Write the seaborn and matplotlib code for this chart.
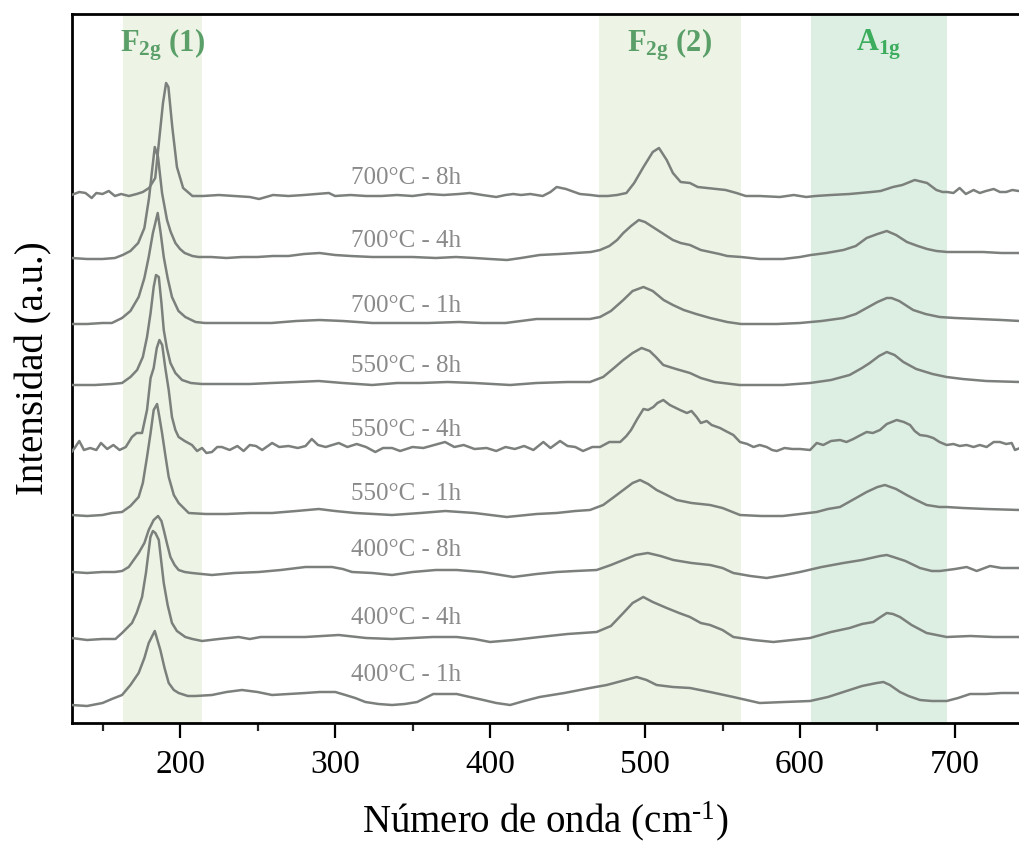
import matplotlib
matplotlib.use("Agg")
import matplotlib.pyplot as plt
from matplotlib.ticker import MultipleLocator
import numpy as np
import pandas as pd
import seaborn as sns

# Stacked Raman spectra of the calcined samples (intensity in arbitrary units,
# each spectrum already shifted vertically for display).
samples = ["700°C - 8h", "700°C - 4h", "700°C - 1h",
           "550°C - 8h", "550°C - 4h", "550°C - 1h",
           "400°C - 8h", "400°C - 4h", "400°C - 1h"]

wn_700_8h = [130, 135, 139, 143, 146, 150, 154, 158, 162, 167, 172, 176, 180, 184, 187, 189, 191, 192.5, 195, 198, 202, 208,
             215, 225, 235, 245, 251, 260, 270, 280, 296, 300, 310, 320, 330, 340, 350, 360, 370, 380, 387, 395, 404, 410,
             415, 420, 426, 434, 439, 443, 449, 458, 465, 470, 476, 482, 488, 493, 499, 505, 509, 514, 518, 523, 529, 534,
             540, 546, 552, 559, 565, 574, 587, 596, 604, 610, 620, 632, 639, 646, 652, 660, 666, 674, 682, 688, 692, 695,
             699, 703, 707, 712, 716, 720, 725, 729, 733, 737, 741]
int_700_8h = [528, 531, 530, 525, 530, 529, 532, 527, 529, 527, 529, 531, 535, 545, 590, 620, 640, 636, 596, 556, 535, 527,
              527, 528, 527, 526, 524, 528, 527, 528, 530, 527, 528, 527, 527, 528, 527, 529, 528, 529, 530, 528, 526, 528,
              529, 528, 529, 527, 531, 536, 534, 529, 528, 527, 527, 528, 530, 540, 556, 571, 575, 563, 550, 541, 540, 536,
              535, 534, 533, 530, 527, 527, 526, 528, 526, 527, 528, 529, 530, 531, 532, 536, 538, 543, 540, 533, 531, 531,
              530, 535, 529, 533, 530, 532, 534, 531, 531, 533, 532]

wn_700_4h = [130, 140, 150, 158, 163, 168, 173, 177, 180, 182, 183.7, 185.8, 188.4, 191.6, 194, 197, 200, 203, 208, 212, 220,
             230, 240, 250, 260, 270, 280, 290, 300, 310, 324, 336, 350, 365, 378, 390, 400, 411, 420, 432, 445, 455, 465,
             471, 477, 482, 486, 491, 496, 500, 504, 508, 513, 518, 523, 529, 536, 542, 548, 553, 562, 574, 589, 600, 607,
             617, 628, 636, 643, 650, 656, 662, 669, 676, 682, 688, 695, 705, 718, 730, 742]
int_700_4h = [465, 464, 464, 465, 468, 472, 480, 495, 525, 553, 576, 566, 530, 503, 491, 480, 474, 470, 467, 466, 466,
              465, 466, 466, 467, 467, 469, 470, 468, 467, 466, 466, 466, 465, 466, 465, 464, 463, 465, 468, 469, 470, 471,
              473, 477, 483, 490, 497, 503, 501, 497, 493, 488, 483, 480, 478, 473, 471, 469, 467, 466, 464, 464, 466, 468,
              470, 473, 477, 485, 489, 492, 488, 481, 477, 474, 472, 471, 471, 471, 470, 470]

wn_700_1h = [130, 140, 150, 156, 162.6, 168, 173.3, 177, 179.8, 182.5, 185.6, 187.5, 189.5, 192, 194.8, 199, 203.4, 210,
             216, 230, 245, 259, 275, 290, 305, 324, 340, 360, 380, 395, 410, 430, 450, 464.5, 471, 478, 486, 492, 499,
             505, 512, 518, 525, 533, 542, 553, 562, 572, 585, 600, 614, 628, 636, 643, 650, 656, 659, 664, 668, 673,
             681, 690, 700, 715, 730, 742]
int_700_1h = [399, 399, 400, 400, 405, 412, 426, 445, 466, 490, 510, 490, 466, 445, 426, 412, 406, 401,
              400, 400, 400, 400, 402, 403, 402, 400, 400, 400, 401, 400, 400, 404, 404, 404, 406, 412, 423, 432, 436,
              432, 423, 418, 413, 409, 405, 401, 399, 399, 399, 400, 402, 405, 409, 415, 421, 425, 425, 422, 418, 413,
              409, 406, 405, 404, 403, 402]

wn_550_8h = [130, 145, 156, 162.6, 168, 172.3, 176, 178.7, 181, 183, 184.5, 186.3, 188, 189.5, 191.5, 193.8, 197, 201.3,
             207, 214, 230, 245, 259, 275, 289.5, 305, 324, 340, 355, 372.7, 390, 413, 430, 450, 464.5, 473, 480, 486,
             492, 497.8, 503, 507, 511.8, 520, 529, 536, 545, 561, 575, 589, 606.5, 620, 632, 640, 645, 651, 656, 661,
             666.7, 675, 685.5, 694.6, 705, 720, 742]
int_550_8h = [338, 338, 339, 340, 346, 353, 366, 386, 410, 436, 448, 446, 420, 393, 375, 360, 350, 343,
              340, 339, 339, 339, 340, 341, 342, 340, 338, 340, 340, 341, 340, 338, 340, 341, 341, 346, 355, 363,
              370, 375, 372, 366, 358, 354, 350, 345, 341, 338, 338, 338, 340, 343, 348, 355, 360, 367, 371, 368,
              361, 354, 349, 346, 344, 342, 341]

wn_550_4h = [130, 132, 135, 138, 142, 146, 149, 153, 157, 161, 165, 169, 172, 175.5, 178.7, 181, 183, 185, 186.7, 188.5,
             190.5, 192.7, 194.8, 197, 199.1, 203, 207.7, 211, 214.2, 217, 220.6, 224, 227, 232, 237, 241, 245, 249,
             253, 259.4, 264, 270, 276, 281, 285, 289, 294, 302.4, 308, 314, 320, 326, 331, 336.8, 342, 350, 357, 364,
             371, 377, 383, 390, 397.8, 404, 410, 416, 422, 428, 434.4, 439, 445.2, 450, 455, 460, 466, 471, 477, 484,
             488, 491, 495, 499, 502, 505.4, 508, 511.8, 516, 522.6, 527, 530, 533.3, 536, 539.8, 543, 548.4, 552, 557,
             561.3, 566, 570, 574, 578.5, 582, 585, 590, 595, 600, 606.5, 610.8, 615, 620, 625.8, 630, 634.4, 638, 643,
             647, 651.6, 656, 662.4, 667, 671, 674, 677.4, 682, 686, 690, 694.6, 699, 703, 707.5, 712, 716, 720.4, 725,
             729, 733, 736.6, 738.7, 742]
int_550_4h = [271, 275, 282, 273, 275, 273, 280, 274, 278, 273, 276, 286, 290, 290, 313, 345, 355, 375, 383, 378,
              355, 333, 306, 293, 286, 282, 278, 272, 275, 270, 271, 276, 276, 273, 277, 272, 278, 277,
              273, 280, 276, 277, 275, 277, 284, 278, 276, 280, 276, 279, 276, 271, 275, 275, 272, 276, 275, 278,
              281, 276, 278, 274, 275, 272, 276, 274, 277, 273, 281, 275, 282, 277, 276, 272, 276, 276, 281, 281,
              287, 293, 304, 314, 313, 316, 320, 323, 318, 313, 310, 312, 306, 300, 302, 298, 295, 292, 288,
              281, 279, 276, 278, 276, 273, 272, 275, 274, 274, 273, 280, 278, 282, 283, 281, 284, 287, 291,
              290, 293, 299, 303, 301, 298, 292, 288, 287, 285, 281, 278, 279, 277, 278, 276, 278, 276, 281,
              281, 279, 280, 273, 275]

wn_550_1h = [130, 140, 150, 156, 162.6, 168, 173.3, 176, 178.7, 181, 183, 185.2, 186.8, 188.4, 190.5, 192.7, 196, 199.1,
             205.6, 216.4, 230, 245, 259.4, 275, 289.5, 300, 313, 325, 336.8, 355, 371.2, 390, 410.8, 430, 443, 455,
             464.5, 473, 480, 486, 492, 496.8, 502, 507.5, 514, 520.4, 530, 542, 550, 561.3, 575, 589, 600, 610.8, 618,
             625.8, 635, 643, 650, 654.8, 662, 668.8, 675, 681.7, 690, 694.6, 705, 720, 742]
int_550_1h = [208, 207, 208, 210, 211, 217, 226, 240, 266, 290, 313, 319, 305, 290, 268, 246, 228, 220,
              210, 209, 209, 210, 210, 212, 214, 212, 210, 209, 208, 210, 212, 210, 206, 209, 210, 212,
              213, 218, 226, 233, 240, 243, 239, 233, 228, 223, 220, 218, 215, 208, 207, 207, 209, 211, 214,
              216, 224, 231, 236, 238, 234, 228, 223, 218, 216, 216, 215, 214, 213]

wn_400_8h = [130, 140, 150, 158, 162.6, 166.9, 173.3, 177, 179.8, 183, 185.8, 188, 189.5, 191.5, 193.8, 196.5, 199.1, 203,
             207.7, 214, 220.6, 235, 250.8, 265, 280.9, 290, 298, 305, 311, 324, 336.8, 350, 365, 378.5, 395, 415, 430,
             443, 455, 468.8, 478, 486, 494, 501.8, 510, 518.3, 530, 542, 550, 557, 568, 578.5, 590, 600, 614, 628, 640,
             651.6, 656, 660.2, 668, 677.4, 685, 690.3, 700, 707.5, 714, 722.6, 730, 742]
int_400_8h = [151, 150, 151, 151, 152, 156, 170, 180, 193, 203, 207, 202, 193, 180, 166, 158, 153, 151,
              150, 149, 148, 150, 151, 153, 156, 156, 156, 154, 151, 150, 148, 151, 153, 153, 151, 146, 149,
              151, 152, 153, 158, 163, 168, 170, 167, 163, 160, 158, 155, 150, 147, 145, 148, 151, 156, 160, 163,
              167, 168, 166, 162, 155, 152, 152, 154, 156, 152, 157, 155, 155]

wn_400_4h = [130, 140, 150, 158.3, 162.6, 169, 172, 175.5, 178, 180.9, 182.5, 184.1, 186.3, 188, 189.5, 192, 194.8, 198,
             203.4, 208, 214.2, 225, 237.8, 245, 252, 265, 280.9, 302.4, 320, 336.8, 350, 363, 378.5, 390, 400, 415,
             432, 450, 468.8, 478, 486, 492, 498.9, 505, 514, 522, 529, 536, 542, 550, 557, 570, 582.8, 595, 606.5,
             620, 632, 640, 647.3, 652, 656, 660, 664.5, 672, 681.7, 694.6, 710, 725, 742]
int_400_4h = [85, 83, 84, 84, 90, 100, 110, 126, 150, 186, 192, 190, 183, 160, 140, 118, 100, 92,
              86, 84, 82, 84, 86, 84, 86, 86, 86, 88, 85, 84, 85, 86, 86, 84, 81, 83,
              86, 89, 91, 97, 110, 120, 126, 121, 115, 110, 106, 100, 98, 93, 86, 83, 81, 83, 85,
              91, 95, 99, 101, 106, 110, 109, 106, 98, 90, 86, 87, 86, 86]

wn_400_1h = [130, 140, 150, 156, 162.6, 168, 173.3, 177, 179.8, 183.7, 187.3, 190, 192.7, 196, 199.1, 205, 209.9, 220.6,
             230, 240, 250, 259.4, 270, 280.9, 290, 300.2, 306.7, 313, 319.6, 328, 336.8, 345, 353, 363.4, 378.5, 387,
             395.7, 404, 413, 422, 432, 448, 464.5, 475.3, 485, 494.6, 501, 507.5, 518, 529, 542, 557, 574, 590, 606.5,
             618, 628, 640, 649.5, 653.8, 658, 664.5, 670, 677.4, 685, 694.6, 702, 709.7, 720, 730, 742]
int_400_1h = [18, 17, 20, 24, 28, 38, 50, 65, 80, 92, 73, 55, 40, 33, 30, 27, 27, 28,
              31, 33, 31, 28, 29, 30, 31, 31, 28, 25, 21, 19, 18, 19, 21, 29, 29, 26,
              23, 20, 18, 22, 26, 30, 35, 38, 42, 46, 43, 38, 36, 35, 31, 26, 20, 21, 22,
              26, 31, 37, 40, 41, 38, 31, 27, 23, 22, 22, 25, 29, 29, 30, 30]

wavenumbers = [wn_700_8h, wn_700_4h, wn_700_1h, wn_550_8h, wn_550_4h, wn_550_1h, wn_400_8h, wn_400_4h, wn_400_1h]
intensities = [int_700_8h, int_700_4h, int_700_1h, int_550_8h, int_550_4h, int_550_1h, int_400_8h, int_400_4h, int_400_1h]

# Raman bands of the spinel and their highlighted ranges (cm-1)
band_names = [r"$\mathbf{F_{2g}}$ (1)", r"$\mathbf{F_{2g}}$ (2)", r"$\mathbf{A_{1g}}$"]
band_ranges = [(163.2, 214.2), (470.3, 561.7), (607.1, 694.6)]

# sample label heights on the stacked scale
label_heights = [545, 482, 417, 357, 293, 229, 173, 105, 48]

records = []
for name, wn, inten in zip(samples, wavenumbers, intensities):
    for w, i in zip(wn, inten):
        records.append({"sample": name, "wavenumber": w, "intensity": i})
df = pd.DataFrame(records)

sns.set_theme(style="white")
plt.rcParams["font.family"] = ["Liberation Serif", "DejaVu Serif"]
plt.rcParams["mathtext.fontset"] = "custom"
plt.rcParams["mathtext.rm"] = "Liberation Serif"
plt.rcParams["mathtext.bf"] = "Liberation Serif:bold"
plt.rcParams["mathtext.it"] = "Liberation Serif:italic"

W, H = 1019, 843
fig = plt.figure(figsize=(W / 100, H / 100), dpi=100)
ax = fig.add_axes([72 / W, (H - 723) / H, (1019 - 72) / W, (723 - 14) / H])

span_colors = ["#edf4e5", "#edf4e5", "#ddefe3"]
band_text_colors = ["#5a9e68", "#5a9e68", "#3cad5c"]
for (lo, hi), col in zip(band_ranges, span_colors):
    ax.axvspan(lo, hi, color=col, lw=0, zorder=0)

line_color = "#7c807c"
sns.lineplot(data=df, x="wavenumber", y="intensity", hue="sample",
             palette=[line_color] * len(samples), estimator=None, sort=False,
             legend=False, linewidth=1.8, ax=ax, zorder=3)

for name, ly in zip(samples, label_heights):
    ax.text(310, ly, name, color="#8a8a8a", fontsize=18, va="center", ha="left", zorder=4)

for name, (lo, hi), col in zip(band_names, band_ranges, band_text_colors):
    ax.text((lo + hi) / 2, 678, name, color=col, fontsize=22, fontweight="bold",
            ha="center", va="center", zorder=4)

ax.set_xlim(130.3, 741.3)
ax.set_ylim(0, 709)
ax.xaxis.set_major_locator(MultipleLocator(100))
ax.xaxis.set_minor_locator(MultipleLocator(50))
ax.tick_params(axis="x", which="major", direction="out", length=11, width=1.6,
               labelsize=24, pad=8, bottom=True, colors="black")
ax.tick_params(axis="x", which="minor", direction="out", length=6, width=1.6, bottom=True)
ax.tick_params(axis="y", left=False, labelleft=False)
ax.set_yticks([])

for side in ["left", "bottom", "top"]:
    ax.spines[side].set_visible(True)
    ax.spines[side].set_color("black")
    ax.spines[side].set_linewidth(2.0)
ax.spines["right"].set_visible(False)

ax.set_xlabel(r"Número de onda (cm$^{\text{-1}}$)", fontsize=28, labelpad=14, color="black")
ax.set_ylabel("Intensidad (a.u.)", fontsize=28, labelpad=14, color="black")

fig.savefig("out.png", dpi=100)
